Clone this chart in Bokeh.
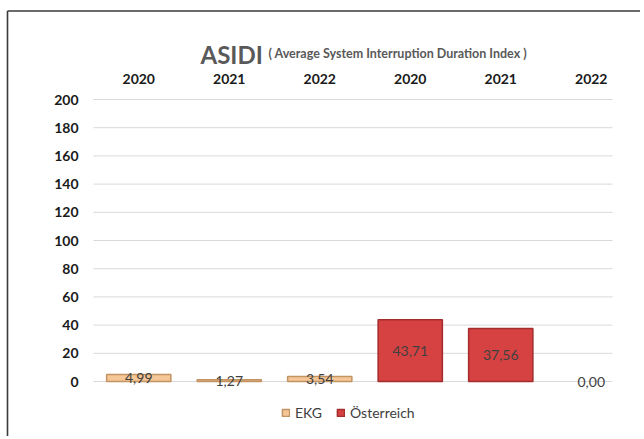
from bokeh.plotting import figure
from bokeh.models import Range1d, Legend, LegendItem, ColumnDataSource
from bokeh.core.properties import value
from bokeh.embed import file_html
from bokeh.resources import INLINE

# ---- data ----
years = ["2020", "2021", "2022", "2020", "2021", "2022"]
ekg_values = [4.99, 1.27, 3.54]
oesterreich_values = [43.71, 37.56, 0.00]
y_ticks = [0, 20, 40, 60, 80, 100, 120, 140, 160, 180, 200]
title_main = "ASIDI"
title_sub = "( Average System Interruption  Duration Index )"

FONT = "Lato"

# ---- layout calibration (pixels -> data units) ----
W, H = 640, 436
PX_X = 90.5          # pixels per category
PX_Y = 1.41          # pixels per y unit
FRAME_L = 93         # pixel of category -0.5
Y0_PX = 381          # pixel row of y = 0
x_left = -0.5 - FRAME_L / PX_X
y_top = Y0_PX / PX_Y
def px_x(px):
    return x_left + px / PX_X
def px_y(py):
    return y_top - py / PX_Y

ekg_x = list(range(len(ekg_values)))
oe_x = [len(ekg_values) + i for i in range(len(oesterreich_values))]

def fmt(v):
    return f"{v:.2f}".replace(".", ",")

ekg_src = ColumnDataSource(dict(x=ekg_x, top=ekg_values, mid=[v / 2 for v in ekg_values],
                                lab=[fmt(v) for v in ekg_values]))
oe_src = ColumnDataSource(dict(x=oe_x, top=oesterreich_values,
                               mid=[v / 2 for v in oesterreich_values],
                               lab=[fmt(v) for v in oesterreich_values]))
oe_draw = ColumnDataSource(dict(x=[x for x, v in zip(oe_x, oesterreich_values) if v > 0],
                                top=[v for v in oesterreich_values if v > 0]))

p = figure(width=W, height=H, output_backend="svg", toolbar_location=None,
           x_range=Range1d(x_left, x_left + W / PX_X), y_range=Range1d(px_y(H), y_top),
           min_border=0)
p.axis.visible = False
p.grid.visible = False
p.outline_line_color = None
p.background_fill_color = "white"
p.border_fill_color = "white"

# chart border (left and top)
bx, by = px_x(7), px_y(10.5)
p.segment(x0=[bx, bx], y0=[by, by], x1=[bx, x_left + W / PX_X], y1=[px_y(H), by],
          line_color="#3a3a3a", line_width=1.6)

# gridlines
grid_x0, grid_x1 = -0.5, px_x(612)
p.segment(x0=[grid_x0] * len(y_ticks), x1=[grid_x1] * len(y_ticks), y0=y_ticks, y1=y_ticks,
          line_color="#d9d9d9", line_width=1)

# y tick labels
p.text(x=[px_x(78)] * len(y_ticks), y=y_ticks, text=[str(t) for t in y_ticks],
       text_align="right", text_baseline="middle", text_font=value(FONT),
       text_font_size="14px", text_font_style="bold", text_color="#1a1a1a")

# category (year) labels on top
p.text(x=list(range(len(years))), y=[px_y(78.5)] * len(years), text=years,
       text_align="center", text_baseline="middle", text_font=value(FONT),
       text_font_size="14px", text_font_style="bold", text_color="#1a1a1a")

# bars
w = 0.71
r1 = p.vbar(x="x", top="top", bottom=0, width=w, source=ekg_src,
            fill_color="#F5C796", line_color="#C39463", line_width=1.5)
r2 = p.vbar(x="x", top="top", bottom=0, width=w, source=oe_draw,
            fill_color="#D64242", line_color="#A32C2C", line_width=1.5)

# data labels
p.text(x="x", y="mid", text="lab", source=ekg_src, text_align="center",
       text_baseline="middle", text_font=value(FONT), text_font_size="14px",
       text_color="#404040")
p.text(x="x", y="mid", text="lab", source=oe_src, text_align="center",
       text_baseline="middle", text_font=value(FONT), text_font_size="14px",
       text_color="#404040")

# title
p.text(x=[px_x(200)], y=[px_y(54)], text=[title_main], text_align="left",
       text_baseline="alphabetic", text_font=value(FONT), text_font_size="24px",
       text_font_style="bold", text_color="#595959")
p.text(x=[px_x(268)], y=[px_y(53)], text=[title_sub], text_align="left",
       text_baseline="alphabetic", text_font=value(FONT), text_font_size="12.5px",
       text_font_style="bold", text_color="#595959")

legend = Legend(items=[LegendItem(label="EKG", renderers=[r1]),
                       LegendItem(label="Österreich", renderers=[r2])],
                orientation="horizontal", location=(281, H - 421),
                label_text_font=FONT, label_text_font_size="14px",
                label_text_color="#404040", glyph_width=9, glyph_height=9,
                border_line_color=None, background_fill_alpha=0, spacing=14,
                label_standoff=5, padding=0, margin=0)
p.add_layout(legend)

open("out.html", "w").write(file_html(p, INLINE))
